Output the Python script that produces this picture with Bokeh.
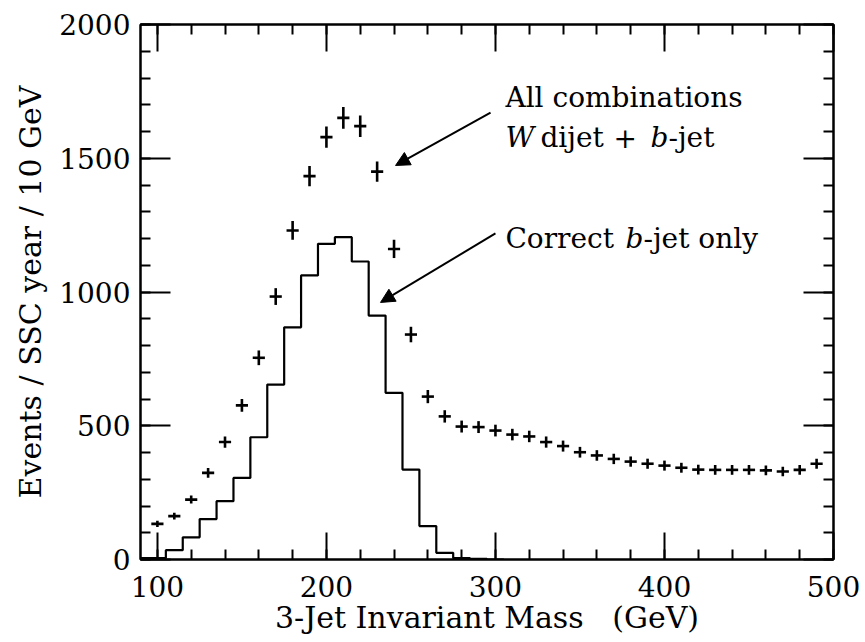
import numpy as np
from bokeh.plotting import figure
from bokeh.models import (Range1d, LinearAxis, FixedTicker, CustomJSTickFormatter,
                          Label, Arrow, NormalHead, ColumnDataSource)
from bokeh.embed import file_html
from bokeh.resources import INLINE

# ---- data ----
mass_centers = [100, 110, 120, 130, 140, 150, 160, 170, 180, 190,
                200, 210, 220, 230, 240, 250, 260, 270, 280, 290,
                300, 310, 320, 330, 340, 350, 360, 370, 380, 390,
                400, 410, 420, 430, 440, 450, 460, 470, 480, 490]
all_combinations = [133, 162, 224, 324, 439, 576, 754, 983, 1230, 1433,
                    1579, 1651, 1620, 1450, 1161, 841, 609, 535, 497, 495,
                    482, 467, 460, 439, 424, 401, 389, 376, 366, 358,
                    351, 343, 336, 335, 335, 335, 333, 329, 335, 358]
hist_centers = [90, 100, 110, 120, 130, 140, 150, 160, 170, 180, 190,
                200, 210, 220, 230, 240, 250, 260, 270, 280, 290, 300]
correct_bjet = [5, 5, 35, 83, 151, 218, 305, 457, 654, 868, 1062,
                1180, 1205, 1114, 912, 623, 336, 125, 25, 5, 2, 0]
bin_width = 10
x_ticks = [100, 200, 300, 400, 500]
y_ticks = [0, 500, 1000, 1500, 2000]
x_title = "3-Jet Invariant Mass" + "\u00a0" * 3 + "(GeV)"

FONT = "DejaVu Serif"

p = figure(width=865, height=642, x_range=Range1d(90, 500), y_range=Range1d(0, 2000),
           output_backend="svg", toolbar_location=None,
           min_border_left=140, min_border_right=32, min_border_top=24, min_border_bottom=83)
p.grid.visible = False
p.outline_line_color = "black"
p.outline_line_width = 2
p.background_fill_color = "white"
p.border_fill_color = "white"

xt = FixedTicker(ticks=x_ticks, minor_ticks=list(range(100, 501, 20)))
yt = FixedTicker(ticks=y_ticks, minor_ticks=list(range(0, 2001, 100)))

def style_axis(ax, ticker, major_len):
    ax.ticker = ticker
    ax.axis_line_color = "black"
    ax.axis_line_width = 2
    ax.major_tick_line_color = "black"
    ax.major_tick_line_width = 2
    ax.minor_tick_line_color = "black"
    ax.minor_tick_line_width = 2
    ax.major_tick_in = major_len
    ax.major_tick_out = 0
    ax.minor_tick_in = 10
    ax.minor_tick_out = 0
    ax.major_label_text_font = FONT
    ax.major_label_text_font_size = "28px"
    ax.major_label_text_color = "black"
    ax.axis_label_text_font = FONT
    ax.axis_label_text_font_size = "30px"
    ax.axis_label_text_font_style = "normal"
    ax.axis_label_text_color = "black"

xa = p.xaxis[0]
style_axis(xa, xt, 27)
xa.axis_label = x_title
xa.major_label_standoff = 16
xa.axis_label_standoff = 0

ya = p.yaxis[0]
style_axis(ya, yt, 30)
ya.axis_label = "Events / SSC year / 10 GeV"
ya.major_label_standoff = 10
ya.axis_label_standoff = 8

blank = CustomJSTickFormatter(code="return ''")
top = LinearAxis()
style_axis(top, xt, 27)
top.formatter = blank
top.major_label_standoff = 0
p.add_layout(top, "above")
right = LinearAxis()
style_axis(right, yt, 30)
right.formatter = blank
right.major_label_standoff = 0
p.add_layout(right, "right")

# ---- histogram: correct b-jet only ----
edges = [c - bin_width / 2 for c in hist_centers] + [hist_centers[-1] + bin_width / 2]
step_y = correct_bjet + [correct_bjet[-1]]
p.step(x=edges, y=step_y, mode="after", line_color="black", line_width=2.2)

# ---- crosses: all combinations (Poisson error bars) ----
xc = np.array(mass_centers, dtype=float)
yc = np.array(all_combinations, dtype=float)
err = np.sqrt(yc)
src = ColumnDataSource(dict(x=xc, y=yc, xl=xc - 3.6, xr=xc + 3.6, yl=yc - err, yh=yc + err))
p.segment(x0="xl", y0="y", x1="xr", y1="y", source=src, line_color="black", line_width=2.6)
p.segment(x0="x", y0="yl", x1="x", y1="yh", source=src, line_color="black", line_width=2.6)

# ---- annotations ----
def lab(x, y, text, dx=0, italic=False):
    p.add_layout(Label(x=x, y=y, x_offset=dx, text=text, text_font=FONT,
                       text_font_size="28px", text_color="black",
                       text_font_style="italic" if italic else "normal",
                       text_align="left", text_baseline="alphabetic"))

ax0 = 305.9
lab(ax0, 1727, "All combinations")
lab(ax0, 1578, "W", 0, True)
lab(ax0, 1578, "dijet", 35)
lab(ax0, 1578, "+", 108)
lab(ax0, 1578, "b", 145, True)
lab(ax0, 1578, "-jet", 163)

lab(ax0, 1200, "Correct")
lab(ax0, 1200, "b", 120, True)
lab(ax0, 1200, "-jet only", 138)

for (xs, ys, xe, ye) in [(297.1, 1671, 240.9, 1473), (300.0, 1219, 232.0, 961)]:
    p.add_layout(Arrow(end=NormalHead(size=14, fill_color="black", line_color="black"),
                       x_start=xs, y_start=ys, x_end=xe, y_end=ye,
                       line_color="black", line_width=2))

open("out.html", "w").write(file_html(p, INLINE))
